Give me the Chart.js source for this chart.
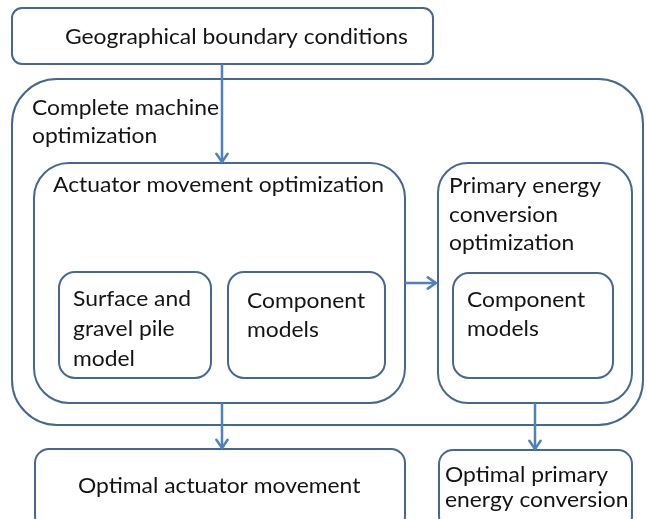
<!DOCTYPE html>
<html>
<head>
<meta charset="utf-8">
<script src="https://cdn.jsdelivr.net/npm/chart.js@4/dist/chart.umd.min.js"></script>
<style>
html,body{margin:0;padding:0;background:#fff;}
#wrap{width:647px;height:519px;position:relative;}
</style>
</head>
<body>
<div id="wrap"><canvas id="c"></canvas></div>
<script>
// Diagram content (in diagram units, mapped through the chart's scales)
const boxNames   = ['geo','outer','actuator','primary','surface','comp1','comp2','optAct','optPrim'];
const boxLeft    = [12, 12, 34, 438, 59, 228, 453, 35, 439];
const boxTop     = [8, 79, 163, 163, 272, 272, 273, 449, 450];
const boxRight   = [433, 643, 405, 632, 211, 385, 613, 405, 632];
const boxBottom  = [64, 425, 403, 403, 378, 378, 378, 530, 530];
const boxRadius  = [10, 45, 35, 30, 16, 16, 16, 14, 14];

const boxText = [
  ['Geographical boundary conditions'],
  ['Complete machine','optimization'],
  ['Actuator movement optimization'],
  ['Primary energy','conversion','optimization'],
  ['Surface and','gravel pile','model'],
  ['Component','models'],
  ['Component','models'],
  ['Optimal actuator movement'],
  ['Optimal primary','energy conversion']
];
const textX        = [65, 32, 53, 449, 73, 247, 467, 78, 445];
const textBaseline = [44, 115, 192, 193, 306, 308, 307, 493, 482];
const textLineStep = [28, 28, 28, 28.5, 30, 29, 29, 28, 25];

// Arrows: from (x0,y0) to (x1,y1)
const arrowX0 = [222, 405, 222, 535];
const arrowY0 = [64, 283, 403, 403];
const arrowX1 = [222, 436, 222, 535];
const arrowY1 = [162, 283, 448, 449];

const BOX_COLOR = '#46678f';
const ARROW_COLOR = '#4f81bd';
const TEXT_COLOR = '#141414';
const FONT_FAMILY = 'Lato, "Open Sans", sans-serif';
const FONT_SIZE = 20.5;

const arrowDatasets = arrowX0.map((x, i) => ({
  type: 'line',
  data: [{x: arrowX0[i], y: arrowY0[i]}, {x: arrowX1[i], y: arrowY1[i]}],
  borderColor: ARROW_COLOR,
  borderWidth: 2.5,
  pointRadius: 0,
  fill: false,
  clip: false,
  order: 0
}));

let squeeze = null;

const diagramPlugin = {
  id: 'diagram',
  beforeDatasetsDraw(chart) {
    const ctx = chart.ctx;
    const xs = chart.scales.x, ys = chart.scales.y;
    ctx.save();
    ctx.font = FONT_SIZE + 'px ' + FONT_FAMILY;
    if (squeeze === null) {
      const w = ctx.measureText(boxText[0][0]).width;
      squeeze = 343 / w;
    }
    // boxes
    ctx.lineWidth = 2;
    ctx.strokeStyle = BOX_COLOR;
    for (let i = 0; i < boxNames.length; i++) {
      const x0 = xs.getPixelForValue(boxLeft[i]);
      const x1 = xs.getPixelForValue(boxRight[i]);
      const y0 = ys.getPixelForValue(boxTop[i]);
      const y1 = ys.getPixelForValue(boxBottom[i]);
      const r = boxRadius[i];
      ctx.beginPath();
      ctx.moveTo(x0 + r, y0);
      ctx.lineTo(x1 - r, y0);
      ctx.arcTo(x1, y0, x1, y0 + r, r);
      ctx.lineTo(x1, y1 - r);
      ctx.arcTo(x1, y1, x1 - r, y1, r);
      ctx.lineTo(x0 + r, y1);
      ctx.arcTo(x0, y1, x0, y1 - r, r);
      ctx.lineTo(x0, y0 + r);
      ctx.arcTo(x0, y0, x0 + r, y0, r);
      ctx.closePath();
      ctx.stroke();
    }
    // text
    ctx.fillStyle = TEXT_COLOR;
    ctx.textAlign = 'left';
    ctx.textBaseline = 'alphabetic';
    for (let i = 0; i < boxText.length; i++) {
      boxText[i].forEach((line, k) => {
        const px = xs.getPixelForValue(textX[i]);
        const py = ys.getPixelForValue(textBaseline[i] + k * textLineStep[i]);
        ctx.save();
        ctx.translate(px, py);
        ctx.scale(squeeze, 1);
        ctx.fillText(line, 0, 0);
        ctx.restore();
      });
    }
    ctx.restore();
  },
  afterDatasetsDraw(chart) {
    const ctx = chart.ctx;
    const xs = chart.scales.x, ys = chart.scales.y;
    ctx.save();
    ctx.strokeStyle = ARROW_COLOR;
    ctx.lineWidth = 2.5;
    ctx.lineCap = 'round';
    ctx.lineJoin = 'round';
    for (let i = 0; i < arrowX0.length; i++) {
      const ax = xs.getPixelForValue(arrowX1[i]);
      const ay = ys.getPixelForValue(arrowY1[i]);
      const bx = xs.getPixelForValue(arrowX0[i]);
      const by = ys.getPixelForValue(arrowY0[i]);
      const ang = Math.atan2(ay - by, ax - bx);
      const len = 10, spread = 0.6;
      ctx.beginPath();
      ctx.moveTo(ax - len * Math.cos(ang - spread), ay - len * Math.sin(ang - spread));
      ctx.lineTo(ax, ay);
      ctx.lineTo(ax - len * Math.cos(ang + spread), ay - len * Math.sin(ang + spread));
      ctx.stroke();
    }
    ctx.restore();
  }
};

new Chart(document.getElementById('c'), {
  type: 'scatter',
  data: { datasets: arrowDatasets },
  options: {
    responsive: true,
    maintainAspectRatio: false,
    animation: false,
    layout: { padding: 0 },
    plugins: { legend: { display: false }, tooltip: { enabled: false }, title: { display: false } },
    scales: {
      x: { type: 'linear', min: 0, max: 647, display: false },
      y: { type: 'linear', min: 0, max: 519, reverse: true, display: false }
    }
  },
  plugins: [diagramPlugin]
});
</script>
</body>
</html>
